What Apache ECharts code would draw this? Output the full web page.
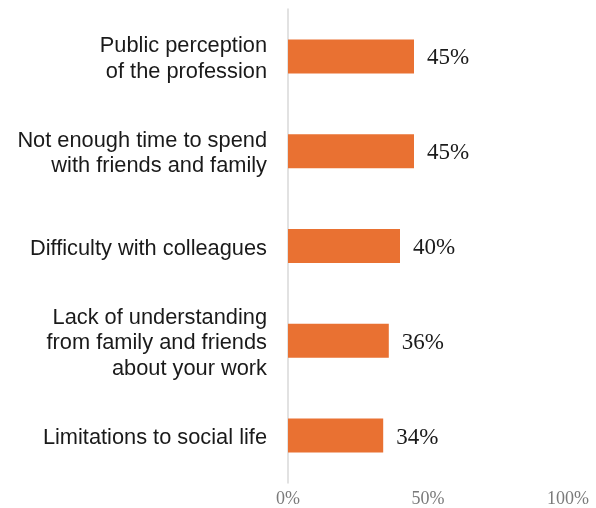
<!DOCTYPE html>
<html>
<head>
<meta charset="utf-8">
<script src="https://cdn.jsdelivr.net/npm/echarts@6/dist/echarts.min.js"></script>
<style>
  html, body { margin: 0; padding: 0; background: #ffffff; }
  #chart { width: 596px; height: 508px; }
</style>
</head>
<body>
<div id="chart"></div>
<script>
// Challenges reported, top to bottom
const categories = [
  'Public perception\nof the profession',
  'Not enough time to spend\nwith friends and family',
  'Difficulty with colleagues',
  'Lack of understanding\nfrom family and friends\nabout your work',
  'Limitations to social life'
];
const shares = [45, 45, 40, 36, 34];
const xTicks = [0, 50, 100];

const chart = echarts.init(document.getElementById('chart'), null, { renderer: 'canvas' });

// A thin spacer line on top nudges each centred label block slightly lower
const categoryLabel = v =>
  '{s| }\n' + v.split('\n').map(line => '{t|' + line + '}').join('\n');

chart.setOption({
  animation: false,
  backgroundColor: '#ffffff',
  grid: { left: 288, right: 28, top: 9, bottom: 25, containLabel: false },
  xAxis: {
    type: 'value',
    min: xTicks[0],
    max: xTicks[xTicks.length - 1],
    interval: xTicks[1] - xTicks[0],
    axisLine: { show: false },
    axisTick: { show: false },
    splitLine: { show: false },
    axisLabel: {
      formatter: v => v + '%',
      color: '#7a7a7a',
      fontFamily: 'Liberation Serif',
      fontSize: 18,
      margin: 7
    }
  },
  yAxis: {
    type: 'category',
    inverse: true,
    data: categories,
    axisLine: { show: true, lineStyle: { color: '#d9d9d9', width: 1.5 } },
    axisTick: { show: false },
    axisLabel: {
      align: 'right',
      margin: 21,
      formatter: categoryLabel,
      rich: {
        s: { fontSize: 1, lineHeight: 5 },
        t: {
          color: '#1a1a1a',
          fontFamily: 'Liberation Sans',
          fontSize: 21.8,
          lineHeight: 25.5,
          align: 'right'
        }
      }
    }
  },
  series: [{
    type: 'bar',
    data: shares,
    barWidth: 34,
    itemStyle: { color: '#E97132' },
    label: {
      show: true,
      position: 'right',
      distance: 13,
      offset: [0, 2],
      formatter: p => p.value + '%',
      color: '#1a1a1a',
      fontFamily: 'Liberation Serif',
      fontSize: 23
    }
  }]
});
</script>
</body>
</html>
